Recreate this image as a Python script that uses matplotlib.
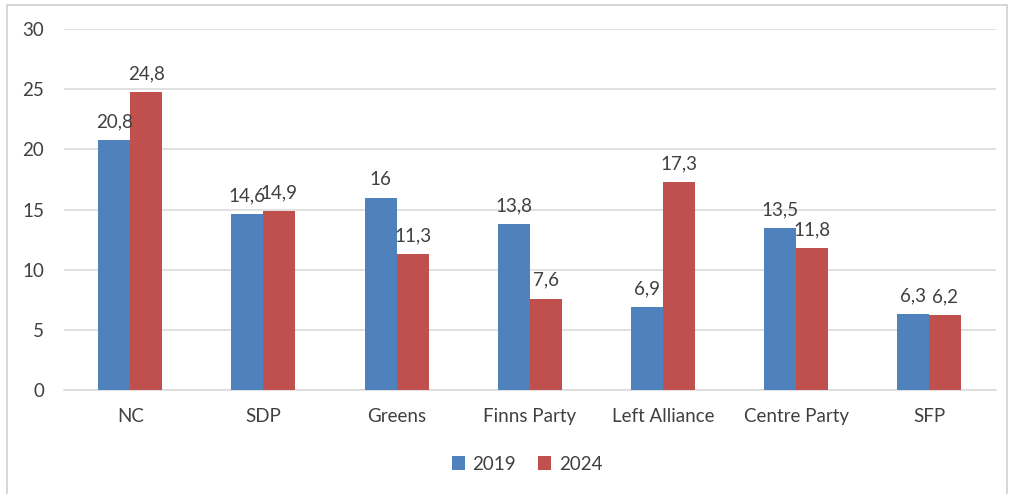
import matplotlib.pyplot as plt
import numpy as np
from matplotlib.patches import Rectangle

parties = ["NC", "SDP", "Greens", "Finns Party", "Left Alliance", "Centre Party", "SFP"]
votes_2019 = [20.8, 14.6, 16.0, 13.8, 6.9, 13.5, 6.3]
votes_2024 = [24.8, 14.9, 11.3, 7.6, 17.3, 11.8, 6.2]
y_ticks = [0, 5, 10, 15, 20, 25, 30]

plt.rcParams['font.family'] = ['Lato', 'DejaVu Sans']

fig = plt.figure(figsize=(10.1, 4.94), dpi=100)
ax = fig.add_axes([0.063, 0.2105, 0.923, 0.7305])

# outer chart border
fig.patches.append(Rectangle((0.007, -0.01), 0.99, 1.0, transform=fig.transFigure,
                             fill=False, edgecolor="#d0d0d0", linewidth=1.2))

x = np.arange(len(parties))
w = 0.24
b1 = ax.bar(x - w / 2, votes_2019, w, color="#4F81BD", label="2019", zorder=3)
b2 = ax.bar(x + w / 2, votes_2024, w, color="#C0504D", label="2024", zorder=3)

def fmt(v):
    s = f"{v:g}"
    return s.replace(".", ",")

for bars, vals in ((b1, votes_2019), (b2, votes_2024)):
    for rect, v in zip(bars, vals):
        ax.annotate(fmt(v), (rect.get_x() + rect.get_width() / 2, v),
                    xytext=(0, 7), textcoords="offset points",
                    ha="center", va="bottom", fontsize=13.5, color="#404040")

ax.set_ylim(0, 30)
ax.set_xlim(-0.5, len(parties) - 0.5)
ax.set_yticks(y_ticks)
ax.set_xticks(x)
ax.set_xticklabels(parties)
ax.tick_params(length=0, labelsize=13.5, labelcolor="#404040")
ax.tick_params(axis="y", pad=14)
ax.tick_params(axis="x", pad=13)
ax.grid(axis="y", color="#d9d9d9", linewidth=1.1, zorder=0)
for s in ("top", "right", "left"):
    ax.spines[s].set_visible(False)
ax.spines["bottom"].set_color("#d9d9d9")
ax.spines["bottom"].set_linewidth(1.1)

leg = ax.legend(loc="upper center", bbox_to_anchor=(0.497, -0.135), ncol=2,
                frameon=False, fontsize=13.5, handlelength=0.7, handleheight=0.7,
                columnspacing=1.2, handletextpad=0.4)
for t in leg.get_texts():
    t.set_color("#404040")

fig.savefig("out.png", dpi=100)
